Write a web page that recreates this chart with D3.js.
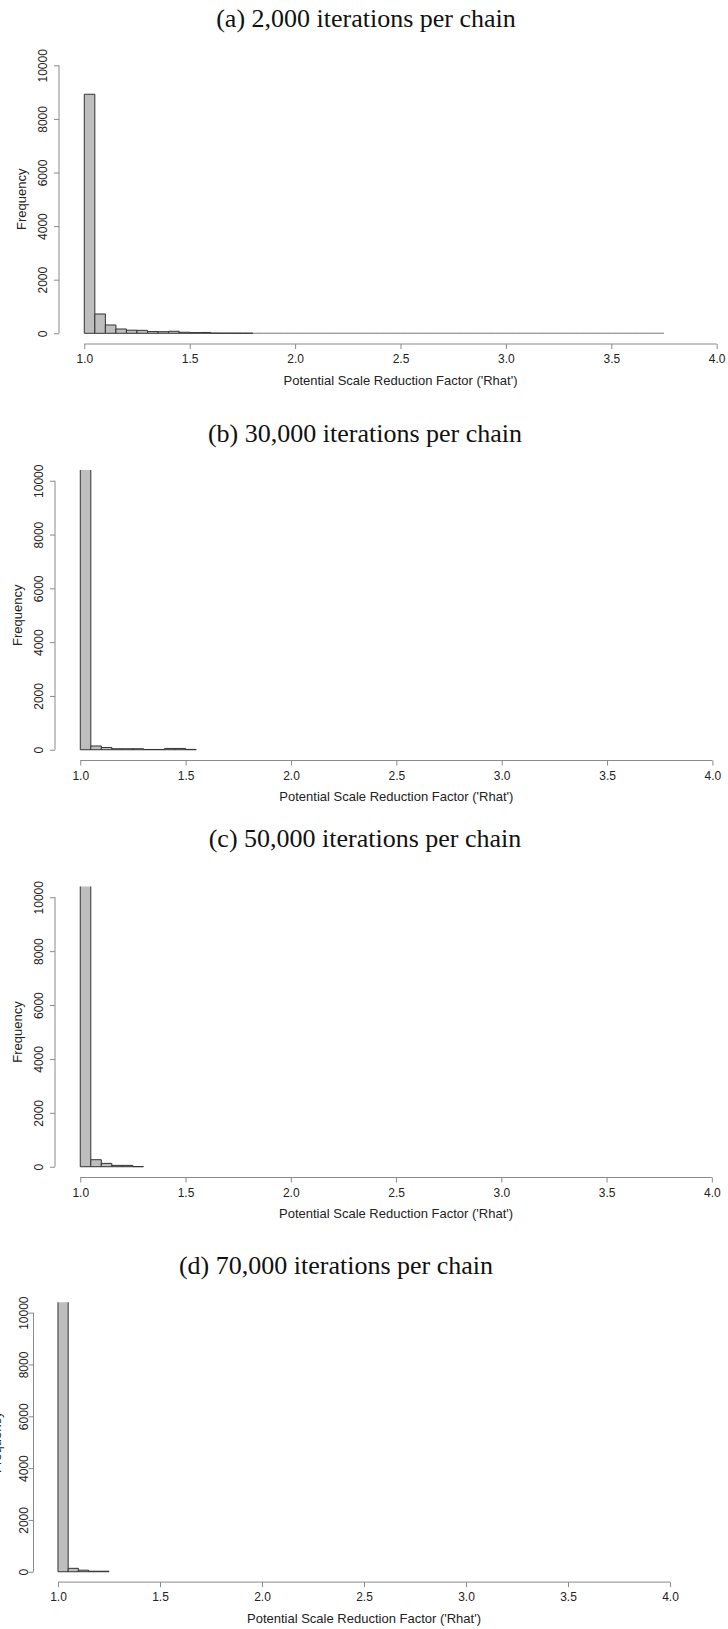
<!DOCTYPE html>
<html>
<head>
<meta charset="utf-8">
<script src="https://cdn.jsdelivr.net/npm/d3@7"></script>
<style>
  body { margin: 0; background: #fff; }
  svg { display: block; }
  .tick text { font-family: "Liberation Sans", Arial, sans-serif; font-size: 12px; fill: #222; }
  .lab { font-family: "Liberation Sans", Arial, sans-serif; font-size: 13px; fill: #222; }
  .ttl { font-family: "Liberation Serif", "Times New Roman", serif; font-size: 26px; fill: #111; }
</style>
</head>
<body>
<div id="chart"></div>
<script>
// panel titles
const titles = [
  "(a) 2,000 iterations per chain",
  "(b) 30,000 iterations per chain",
  "(c) 50,000 iterations per chain",
  "(d) 70,000 iterations per chain"
];

// histogram counts, bins of width 0.05 starting at 1.0
const countsA = [8920, 720, 310, 160, 115, 110, 65, 60, 75, 38, 25, 30, 8, 6, 5, 4,
  0, 0, 0, 0, 0, 0, 0, 0, 0, 0, 0, 0, 0, 0, 0, 0, 0, 0, 0, 0, 0, 0, 0, 0,
  0, 0, 0, 0, 0, 0, 0, 0, 0, 0, 0, 0, 0, 0, 1];
const countsB = [10750, 140, 85, 37, 37, 37, 10, 10, 48, 48, 12];
const countsC = [10800, 260, 124, 50, 50, 5];
const countsD = [10850, 131, 60, 20, 20];

const binStart = 1.0;
const binWidth = 0.05;

const xTicks = [1.0, 1.5, 2.0, 2.5, 3.0, 3.5, 4.0];
const yTicks = [0, 2000, 4000, 6000, 8000, 10000];
const xLabel = "Potential Scale Reduction Factor ('Rhat')";
const yLabel = "Frequency";

const W = 728, H = 1629;

// plot-region geometry of each panel (R style: limits padded 4%)
const panels = [
  { counts: countsA, title: titles[0], left: 59, right: 742, top: 54.6, bottom: 344, titleX: 366, titleY: 26.7, yLabOff: 11.7 },
  { counts: countsB, title: titles[1], left: 55, right: 737.7, top: 470, bottom: 760.5, titleX: 365, titleY: 441.7, yLabOff: 11.7 },
  { counts: countsC, title: titles[2], left: 55, right: 737.1, top: 886.5, bottom: 1177.5, titleX: 365, titleY: 846.7, yLabOff: 11.7 },
  { counts: countsD, title: titles[3], left: 33.5, right: 694.5, top: 1302.3, bottom: 1582.1, titleX: 336, titleY: 1274, yLabOff: 6 }
];

const svg = d3.select('#chart').append('svg')
  .attr('width', W)
  .attr('height', H);

panels.forEach((p, k) => {
  const x = d3.scaleLinear().domain([0.88, 4.12]).range([p.left, p.right]);
  const y = d3.scaleLinear().domain([-400, 10400]).range([p.bottom, p.top]);

  const g = svg.append('g');

  g.append('clipPath').attr('id', 'clip' + k)
    .append('rect')
    .attr('x', p.left).attr('y', p.top)
    .attr('width', p.right - p.left).attr('height', p.bottom - p.top);

  // bars (near-empty bins show as a faint grey line, as in R)
  const bins = p.counts.map((c, i) => ({ x0: binStart + i * binWidth, x1: binStart + (i + 1) * binWidth, n: c }));
  g.append('g').attr('clip-path', `url(#clip${k})`)
    .selectAll('path')
    .data(bins)
    .enter()
    .append('path')
    .attr('d', d => `M${x(d.x0)},${y(0)}V${y(d.n)}H${x(d.x1)}V${y(0)}Z`)
    .attr('fill', '#bebebe')
    .attr('stroke', d => d.n <= 1 ? '#9a9a9a' : '#333')
    .attr('stroke-width', 1);

  // x axis
  const xAxis = g.append('g')
    .attr('transform', `translate(0,${p.bottom})`)
    .call(d3.axisBottom(x).tickValues(xTicks).tickFormat(d3.format('.1f')).tickSize(5).tickSizeOuter(0).tickPadding(3));
  xAxis.select('.domain').attr('d', `M${x(xTicks[0])},0H${x(xTicks[xTicks.length - 1])}`);
  xAxis.selectAll('.domain, .tick line').attr('stroke', '#8a8a8a');
  xAxis.selectAll('.tick text').attr('y', 19).attr('dy', 0);

  // y axis
  const yAxis = g.append('g')
    .attr('transform', `translate(${p.left},0)`)
    .call(d3.axisLeft(y).tickValues(yTicks).tickFormat(d3.format('d')).tickSize(5).tickSizeOuter(0));
  yAxis.select('.domain').attr('d', `M0,${y(yTicks[0])}V${y(yTicks[yTicks.length - 1])}`);
  yAxis.selectAll('.domain, .tick line').attr('stroke', '#8a8a8a');
  yAxis.selectAll('.tick text')
    .attr('transform', 'rotate(-90)')
    .attr('x', 0)
    .attr('y', -p.yLabOff)
    .attr('dy', 0)
    .style('text-anchor', 'middle');

  // axis titles
  g.append('text').attr('class', 'lab')
    .attr('x', (x(1) + x(4)) / 2)
    .attr('y', p.bottom + 40.5)
    .attr('text-anchor', 'middle')
    .text(xLabel);

  g.append('text').attr('class', 'lab')
    .attr('transform', `translate(${p.left - 33},${(p.top + p.bottom) / 2}) rotate(-90)`)
    .attr('text-anchor', 'middle')
    .text(yLabel);

  // panel title
  svg.append('text').attr('class', 'ttl')
    .attr('x', p.titleX)
    .attr('y', p.titleY)
    .attr('text-anchor', 'middle')
    .text(p.title);
});
</script>
</body>
</html>
